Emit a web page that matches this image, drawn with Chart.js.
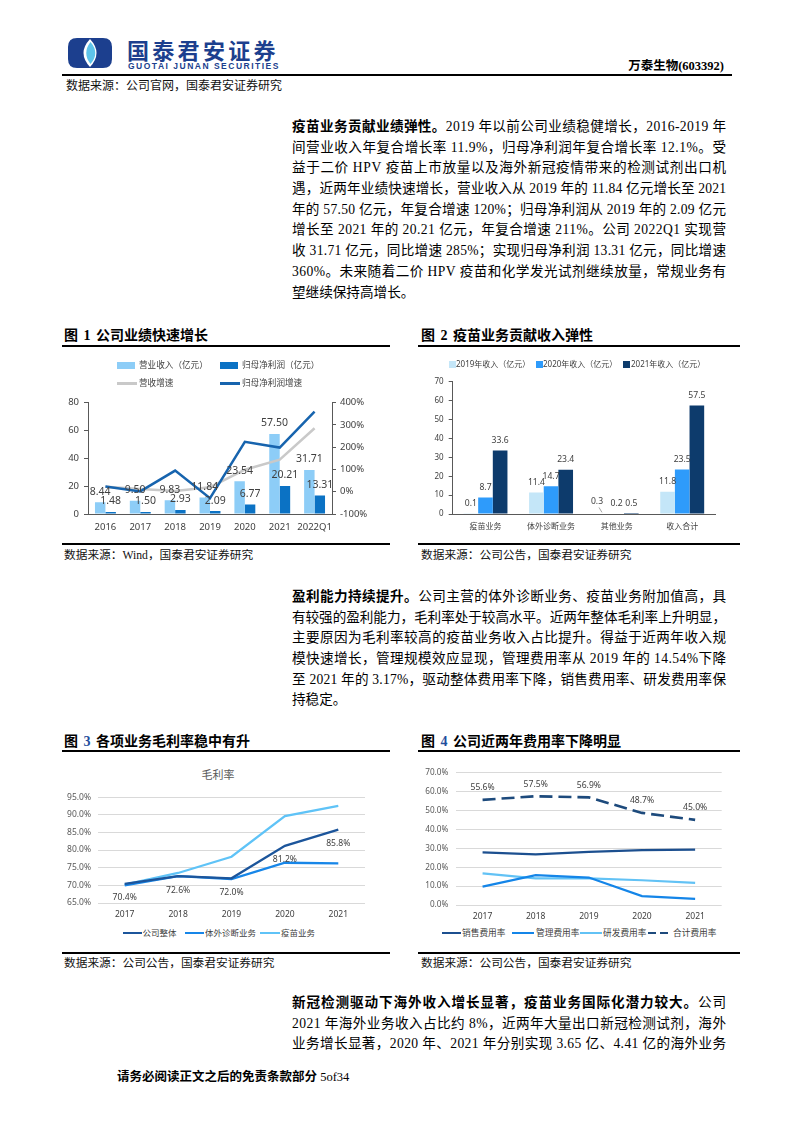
<!DOCTYPE html>
<html lang="zh-CN"><head><meta charset="utf-8">
<title>万泰生物</title>
<script src="https://cdn.jsdelivr.net/npm/chart.js@4.4.1/dist/chart.umd.min.js"></script>
<style>
html,body{margin:0;padding:0;background:#fff}
body{width:793px;height:1122px;position:relative;overflow:hidden;font-family:"Liberation Serif","Noto Sans CJK SC",serif;color:#000}
.a{position:absolute;white-space:nowrap}
.para{position:absolute;left:292px;width:434px;font-size:13.6px;line-height:20.7px}
.para div{height:20.7px;white-space:nowrap}
.cap{position:absolute;font-size:14px;font-weight:bold;line-height:16px;white-space:nowrap;word-spacing:2px}
.rule{position:absolute;height:2px;background:#000}
.src{position:absolute;font-size:11.7px;line-height:14px;white-space:nowrap;color:#111}
.box{position:absolute}
.lg{position:absolute;font-family:"Noto Sans","Noto Sans CJK SC",sans-serif;white-space:nowrap}
</style></head><body>

<!-- header -->
<svg class="a" style="left:68px;top:38px" width="44" height="30" viewBox="0 0 44 30">
  <path d="M9 0 H35 Q44 0 44 9 V21 Q44 30 35 30 H9 Q0 30 0 21 V9 Q0 0 9 0Z" fill="#1C3F8E"/>
  <path d="M22 1 Q35 15 22 29 Q9 15 22 1Z" fill="#fff"/>
  <path d="M22.5 4 Q32 15 22.5 26 Q14 15 22.5 4Z" fill="#5EC4EA"/>
</svg>
<div class="a" style="left:127px;top:36px;font-family:'Noto Sans CJK SC',sans-serif;font-weight:bold;font-size:22px;letter-spacing:3.3px;line-height:26px;color:#1C3F8E">国泰君安证券</div>
<div class="a" style="left:128px;top:61px;font-family:'Liberation Sans',sans-serif;font-weight:bold;font-size:8.5px;letter-spacing:1.5px;line-height:10px;color:#1C3F8E">GUOTAI JUNAN SECURITIES</div>
<div class="a" style="right:69px;top:58px;font-size:12.5px;font-weight:bold;line-height:16px">万泰生物(603392)</div>
<div class="rule" style="left:62px;top:74px;width:670px;height:1.5px"></div>
<div class="src" style="left:66px;top:79px;font-size:12px">数据来源：公司官网，国泰君安证券研究</div>

<!-- paragraph 1 -->
<div class="para" style="top:117px">
<div class="j"><b>疫苗业务贡献业绩弹性。</b>2019 年以前公司业绩稳健增长，2016-2019 年</div>
<div class="j">间营业收入年复合增长率 11.9%，归母净利润年复合增长率 12.1%。受</div>
<div class="j">益于二价 HPV 疫苗上市放量以及海外新冠疫情带来的检测试剂出口机</div>
<div class="j">遇，近两年业绩快速增长，营业收入从 2019 年的 11.84 亿元增长至 2021</div>
<div class="j">年的 57.50 亿元，年复合增速 120%；归母净利润从 2019 年的 2.09 亿元</div>
<div class="j">增长至 2021 年的 20.21 亿元，年复合增速 211%。公司 2022Q1 实现营</div>
<div class="j">收 31.71 亿元，同比增速 285%；实现归母净利润 13.31 亿元，同比增速</div>
<div class="j">360%。未来随着二价 HPV 疫苗和化学发光试剂继续放量，常规业务有</div>
<div>望继续保持高增长。</div>
</div>

<!-- figure 1 / 2 captions -->
<div class="cap" style="left:64px;top:328px">图 1 公司业绩快速增长</div>
<div class="rule" style="left:62px;top:345px;width:328px"></div>
<div class="cap" style="left:421px;top:328px">图 2 疫苗业务贡献收入弹性</div>
<div class="rule" style="left:418px;top:345px;width:322px"></div>

<div class="box" style="left:62px;top:392px;width:328px;height:148px"><canvas id="c1"></canvas></div>
<div class="box" style="left:418px;top:372px;width:322px;height:168px"><canvas id="c2"></canvas></div>

<div class="rule" style="left:62px;top:543px;width:328px"></div>
<div class="src" style="left:64px;top:549px">数据来源：Wind，国泰君安证券研究</div>
<div class="rule" style="left:418px;top:543px;width:322px"></div>
<div class="src" style="left:421px;top:549px">数据来源：公司公告，国泰君安证券研究</div>

<!-- paragraph 2 -->
<div class="para" style="top:587px">
<div class="j"><b>盈利能力持续提升。</b>公司主营的体外诊断业务、疫苗业务附加值高，具</div>
<div class="j">有较强的盈利能力，毛利率处于较高水平。近两年整体毛利率上升明显，</div>
<div class="j">主要原因为毛利率较高的疫苗业务收入占比提升。得益于近两年收入规</div>
<div class="j">模快速增长，管理规模效应显现，管理费用率从 2019 年的 14.54%下降</div>
<div class="j">至 2021 年的 3.17%，驱动整体费用率下降，销售费用率、研发费用率保</div>
<div>持稳定。</div>
</div>

<!-- figure 3 / 4 -->
<div class="cap" style="left:64px;top:734px">图 <span style="color:#1F4E9C">3</span> 各项业务毛利率稳中有升</div>
<div class="rule" style="left:62px;top:750px;width:328px"></div>
<div class="cap" style="left:421px;top:734px">图 <span style="color:#1F4E9C">4</span> 公司近两年费用率下降明显</div>
<div class="rule" style="left:418px;top:750px;width:322px"></div>

<div class="lg" style="left:198px;top:767px;width:40px;text-align:center;font-size:11px;line-height:16px;color:#595959">毛利率</div>
<div class="box" style="left:62px;top:785px;width:328px;height:140px"><canvas id="c3"></canvas></div>
<div class="box" style="left:418px;top:760px;width:322px;height:165px"><canvas id="c4"></canvas></div>

<div class="rule" style="left:62px;top:952px;width:328px"></div>
<div class="src" style="left:64px;top:957px">数据来源：公司公告，国泰君安证券研究</div>
<div class="rule" style="left:418px;top:952px;width:322px"></div>
<div class="src" style="left:421px;top:957px">数据来源：公司公告，国泰君安证券研究</div>

<!-- paragraph 3 -->
<div class="para" style="top:993px">
<div class="j"><b>新冠检测驱动下海外收入增长显著，疫苗业务国际化潜力较大。</b>公司</div>
<div class="j">2021 年海外业务收入占比约 8%，近两年大量出口新冠检测试剂，海外</div>
<div class="j">业务增长显著，2020 年、2021 年分别实现 3.65 亿、4.41 亿的海外业务</div>
</div>

<div class="a" style="left:117px;top:1069px;font-size:12.5px;line-height:16px"><b>请务必阅读正文之后的免责条款部分</b> 5of34</div>

<script>
// ---------- data ----------
const c1Years = ['2016', '2017', '2018', '2019', '2020', '2021', '2022Q1'];
const c1Revenue = [8.44, 9.50, 9.83, 11.84, 23.54, 57.50, 31.71];
const c1Profit = [1.48, 1.50, 2.93, 2.09, 6.77, 20.21, 13.31];
const c1RevGrowth = [22, 12.6, 3.5, 20.4, 98.8, 144.3, 285];
const c1ProfitGrowth = [24, 1.4, 95, -28.7, 224, 198.5, 360];
const c1Names = ['营业收入（亿元）', '归母净利润（亿元）', '营收增速', '归母净利润增速'];

const c2Cats = ['疫苗业务', '体外诊断业务', '其他业务', '收入合计'];
const c2Y2019 = [0.1, 11.4, 0.3, 11.8];
const c2Y2020 = [8.7, 14.7, 0.2, 23.5];
const c2Y2021 = [33.6, 23.4, 0.5, 57.5];
const c2Names = ['2019年收入（亿元）', '2020年收入（亿元）', '2021年收入（亿元）'];

const c3Years = ['2017', '2018', '2019', '2020', '2021'];
const c3Total = [70.4, 72.6, 72.0, 81.2, 85.8];
const c3Diag = [70.0, 72.6, 71.8, 76.4, 76.2];
const c3Vaccine = [70.2, 73.5, 78.1, 89.6, 92.5];
const c3Names = ['公司整体', '体外诊断业务', '疫苗业务'];

const c4Years = ['2017', '2018', '2019', '2020', '2021'];
const c4Sales = [27.8, 26.8, 28.1, 29.0, 29.3];
const c4Admin = [9.7, 15.8, 14.5, 4.7, 3.2];
const c4RD = [16.7, 14.1, 14.1, 13.1, 11.7];
const c4Total = [55.6, 57.5, 56.9, 48.7, 45.0];
const c4Names = ['销售费用率', '管理费用率', '研发费用率', '合计费用率'];

// ---------- text justification (fixed line breaks) ----------
function justifyLines() {
  const W = 434;
  document.querySelectorAll('.para div.j').forEach(d => {
    d.style.letterSpacing = '0px';
    const r = document.createRange();
    r.selectNodeContents(d);
    const w = r.getBoundingClientRect().width;
    const n = d.textContent.length;
    d.style.letterSpacing = ((W - w) / (n - 1)) + 'px';
  });
}
justifyLines();
if (document.fonts && document.fonts.ready) document.fonts.ready.then(justifyLines);

// ---------- style ----------
const FONT = '"Noto Sans","Noto Sans CJK SC",sans-serif';
Chart.defaults.font.family = FONT;
Chart.defaults.color = '#404040';
Chart.defaults.animation = false;

const labelPlugin = {
  id: 'valueLabels',
  afterDatasetsDraw(chart, args, opts) {
    const ctx = chart.ctx;
    (opts.sets || []).forEach(set => {
      const meta = chart.getDatasetMeta(set.index);
      const data = chart.data.datasets[set.index].data;
      ctx.save();
      ctx.font = set.font;
      ctx.fillStyle = set.color || '#404040';
      ctx.textAlign = 'center';
      ctx.textBaseline = 'middle';
      meta.data.forEach((el, i) => {
        const p = el.getProps(['x', 'y'], true);
        const sh = (set.shift && set.shift[i]) || [0, 0];
        const tx = p.x + sh[0], ty = p.y + set.dy + sh[1];
        ctx.fillText(set.fmt(data[i]), tx, ty);
        if (set.leader && set.leader[i]) {
          const l = set.leader[i];
          ctx.strokeStyle = '#A6A6A6';
          ctx.lineWidth = 1;
          ctx.beginPath();
          ctx.moveTo(tx + l[0], ty + l[1]);
          ctx.lineTo(p.x, p.y - 1);
          ctx.stroke();
        }
      });
      ctx.restore();
    });
  }
};

function addLegend(items, fontSize, color) {
  items.forEach(it => {
    const sw = document.createElement('div');
    let bg = 'background:' + it.color;
    if (it.dash) {
      bg = 'background:repeating-linear-gradient(90deg,' + it.color + ' 0 ' + it.dash[0] + 'px,transparent ' + it.dash[0] + 'px ' + (it.dash[0] + it.dash[1]) + 'px)';
    }
    sw.style.cssText = 'position:absolute;left:' + it.sx + 'px;top:' + (it.y - it.h / 2) + 'px;width:' + it.w + 'px;height:' + it.h + 'px;' + bg;
    document.body.appendChild(sw);
    const t = document.createElement('div');
    t.className = 'lg';
    t.textContent = it.text;
    t.style.left = it.tx + 'px';
    t.style.top = (it.y - fontSize * 0.7) + 'px';
    t.style.fontSize = fontSize + 'px';
    t.style.lineHeight = (fontSize * 1.4) + 'px';
    t.style.color = color;
    document.body.appendChild(t);
  });
}

const axisCol = '#595959';
const fixW = w => s => { s.width = w; };
const fixH = h => s => { s.height = h; };
const noGrid = { display: false, drawTicks: false };

// ---------- chart 1 ----------
const c1Col = ['#8DCDF7', '#0B72C4', '#C9C9C9', '#1764AE'];
new Chart(document.getElementById('c1'), {
  type: 'bar',
  data: {
    labels: c1Years,
    datasets: [
      { type: 'line', label: c1Names[2], data: c1RevGrowth, yAxisID: 'y1', borderColor: c1Col[2], borderWidth: 2.5, pointRadius: 0, pointHoverRadius: 0, tension: 0, order: 1 },
      { type: 'line', label: c1Names[3], data: c1ProfitGrowth, yAxisID: 'y1', borderColor: c1Col[3], borderWidth: 2.5, pointRadius: 0, pointHoverRadius: 0, tension: 0, order: 0 },
      { label: c1Names[0], data: c1Revenue, backgroundColor: c1Col[0], yAxisID: 'y', order: 3, categoryPercentage: 0.6, barPercentage: 1 },
      { label: c1Names[1], data: c1Profit, backgroundColor: c1Col[1], yAxisID: 'y', order: 3, categoryPercentage: 0.6, barPercentage: 1 }
    ]
  },
  options: {
    responsive: true, maintainAspectRatio: false,
    layout: { padding: { top: 9, right: 0, left: 0, bottom: 0 } },
    plugins: {
      legend: { display: false }, tooltip: { enabled: false },
      valueLabels: { sets: [
        { index: 2, dy: -10.5, font: '10.5px ' + FONT, fmt: v => v.toFixed(2) },
        { index: 3, dy: -10.5, font: '10.5px ' + FONT, fmt: v => v.toFixed(2) }
      ] }
    },
    scales: {
      x: { grid: noGrid, border: { display: true, color: axisCol, width: 1 },
           ticks: { font: { size: 9.5 }, padding: 7.3, maxRotation: 0, autoSkip: false }, afterFit: fixH(26) },
      y: { position: 'left', min: 0, max: 80, ticks: { stepSize: 20, font: { size: 9.5 }, padding: 5 },
           grid: { display: true, drawOnChartArea: false, drawTicks: true, tickLength: 4, color: axisCol },
           border: { display: true, color: axisCol }, afterFit: fixW(26) },
      y1: { position: 'right', min: -100, max: 400, ticks: { stepSize: 100, font: { size: 9.5 }, padding: 4, callback: v => v + '%' },
            grid: { display: true, drawOnChartArea: false, drawTicks: true, tickLength: 4, color: axisCol },
            border: { display: true, color: axisCol }, afterFit: fixW(58) }
    }
  },
  plugins: [labelPlugin]
});
addLegend([
  { sx: 117, y: 365, w: 18, h: 7, color: c1Col[0], tx: 139, text: c1Names[0] },
  { sx: 220, y: 365, w: 18, h: 7, color: c1Col[1], tx: 242, text: c1Names[1] },
  { sx: 117, y: 383, w: 20, h: 3, color: c1Col[2], tx: 139, text: c1Names[2] },
  { sx: 220, y: 383, w: 20, h: 3, color: c1Col[3], tx: 242, text: c1Names[3] }
], 8.6, '#404040');

// ---------- chart 2 ----------
const c2Col = ['#C4E6F8', '#2E9BFB', '#0D3B6C'];
new Chart(document.getElementById('c2'), {
  type: 'bar',
  data: {
    labels: c2Cats,
    datasets: [
      { label: c2Names[0], data: c2Y2019, backgroundColor: c2Col[0], categoryPercentage: 0.67, barPercentage: 1 },
      { label: c2Names[1], data: c2Y2020, backgroundColor: c2Col[1], categoryPercentage: 0.67, barPercentage: 1 },
      { label: c2Names[2], data: c2Y2021, backgroundColor: c2Col[2], categoryPercentage: 0.67, barPercentage: 1 }
    ]
  },
  options: {
    responsive: true, maintainAspectRatio: false,
    layout: { padding: { top: 8.7, right: 25, left: 0, bottom: 0 } },
    plugins: {
      legend: { display: false }, tooltip: { enabled: false },
      valueLabels: { sets: [
        { index: 0, dy: -10, font: '8.6px ' + FONT, fmt: v => v.toFixed(1), shift: { 2: [-5, -2] }, leader: { 2: [2, 6] } },
        { index: 1, dy: -10, font: '8.6px ' + FONT, fmt: v => v.toFixed(1) },
        { index: 2, dy: -10, font: '8.6px ' + FONT, fmt: v => v.toFixed(1) }
      ] }
    },
    scales: {
      x: { grid: noGrid, border: { display: true, color: axisCol, width: 1 },
           ticks: { font: { size: 8 }, padding: 8.2, maxRotation: 0, autoSkip: false }, afterFit: fixH(26) },
      y: { min: 0, max: 70, ticks: { stepSize: 10, font: { size: 8 }, padding: 5 },
           grid: { display: true, drawOnChartArea: false, drawTicks: true, tickLength: 4, color: axisCol },
           border: { display: true, color: axisCol }, afterFit: fixW(34.7) }
    }
  },
  plugins: [labelPlugin]
});
addLegend([
  { sx: 449, y: 364, w: 7, h: 7, color: c2Col[0], tx: 456, text: c2Names[0] },
  { sx: 536, y: 364, w: 7, h: 7, color: c2Col[1], tx: 543, text: c2Names[1] },
  { sx: 623, y: 364, w: 7, h: 7, color: c2Col[2], tx: 631, text: c2Names[2] }
], 8, '#404040');

// ---------- chart 3 ----------
const c3Col = ['#1C559B', '#1786E8', '#5FC3F7'];
new Chart(document.getElementById('c3'), {
  type: 'line',
  data: {
    labels: c3Years,
    datasets: [
      { label: c3Names[0], data: c3Total, borderColor: c3Col[0], borderWidth: 2.3, pointRadius: 0, pointHoverRadius: 0, tension: 0 },
      { label: c3Names[1], data: c3Diag, borderColor: c3Col[1], borderWidth: 2.3, pointRadius: 0, pointHoverRadius: 0, tension: 0 },
      { label: c3Names[2], data: c3Vaccine, borderColor: c3Col[2], borderWidth: 2.3, pointRadius: 0, pointHoverRadius: 0, tension: 0 }
    ]
  },
  options: {
    responsive: true, maintainAspectRatio: false,
    layout: { padding: { top: 10, right: 25, left: 0, bottom: 0 } },
    plugins: {
      legend: { display: false }, tooltip: { enabled: false },
      valueLabels: { sets: [
        { index: 0, dy: 14, font: '8.6px ' + FONT, fmt: v => v.toFixed(1) + '%' }
      ] }
    },
    scales: {
      x: { offset: true, grid: noGrid, border: { display: false },
           ticks: { font: { size: 8.5 }, padding: 6.6, maxRotation: 0 }, afterFit: fixH(22) },
      y: { min: 65, max: 95, ticks: { stepSize: 5, font: { size: 8.5 }, color: '#595959', padding: 7, callback: v => v.toFixed(1) + '%' },
           grid: { color: '#D9D9D9', drawTicks: false }, border: { display: false }, afterFit: fixW(36) }
    }
  },
  plugins: [labelPlugin]
});
addLegend([
  { sx: 122.5, y: 933, w: 19, h: 2.5, color: c3Col[0], tx: 142.5, text: c3Names[0] },
  { sx: 185, y: 933, w: 19, h: 2.5, color: c3Col[1], tx: 205, text: c3Names[1] },
  { sx: 260, y: 933, w: 20, h: 2.5, color: c3Col[2], tx: 281, text: c3Names[2] }
], 8.5, '#404040');

// ---------- chart 4 ----------
const c4Col = ['#1C4F8F', '#1485E8', '#62C2F5', '#1D4A7C'];
new Chart(document.getElementById('c4'), {
  type: 'line',
  data: {
    labels: c4Years,
    datasets: [
      { label: c4Names[0], data: c4Sales, borderColor: c4Col[0], borderWidth: 2.2, pointRadius: 0, pointHoverRadius: 0, tension: 0 },
      { label: c4Names[1], data: c4Admin, borderColor: c4Col[1], borderWidth: 2.2, pointRadius: 0, pointHoverRadius: 0, tension: 0 },
      { label: c4Names[2], data: c4RD, borderColor: c4Col[2], borderWidth: 2.2, pointRadius: 0, pointHoverRadius: 0, tension: 0 },
      { label: c4Names[3], data: c4Total, borderColor: c4Col[3], borderWidth: 2.6, borderDash: [13, 6], pointRadius: 0, pointHoverRadius: 0, tension: 0 }
    ]
  },
  options: {
    responsive: true, maintainAspectRatio: false,
    layout: { padding: { top: 10, right: 18.3, left: 0, bottom: 0 } },
    plugins: {
      legend: { display: false }, tooltip: { enabled: false },
      valueLabels: { sets: [
        { index: 3, dy: -12, font: '8.6px ' + FONT, fmt: v => v.toFixed(1) + '%' }
      ] }
    },
    scales: {
      x: { offset: true, grid: noGrid, border: { display: false },
           ticks: { font: { size: 8.5 }, padding: 6.6, maxRotation: 0 }, afterFit: fixH(20) },
      y: { min: 0, max: 70, ticks: { stepSize: 10, font: { size: 8.2 }, color: '#595959', padding: 7.7, callback: v => v.toFixed(1) + '%' },
           grid: { color: '#D9D9D9', drawTicks: false }, border: { display: false }, afterFit: fixW(38) }
    }
  },
  plugins: [labelPlugin]
});
addLegend([
  { sx: 441.5, y: 933, w: 19, h: 2.5, color: c4Col[0], tx: 462, text: c4Names[0] },
  { sx: 512, y: 933, w: 22, h: 2.5, color: c4Col[1], tx: 536, text: c4Names[1] },
  { sx: 580, y: 933, w: 22, h: 2.5, color: c4Col[2], tx: 603, text: c4Names[2] },
  { sx: 648, y: 933, w: 20, h: 2.5, color: c4Col[3], dash: [8, 4], tx: 673, text: c4Names[3] }
], 8.7, '#404040');
</script>
</body></html>
